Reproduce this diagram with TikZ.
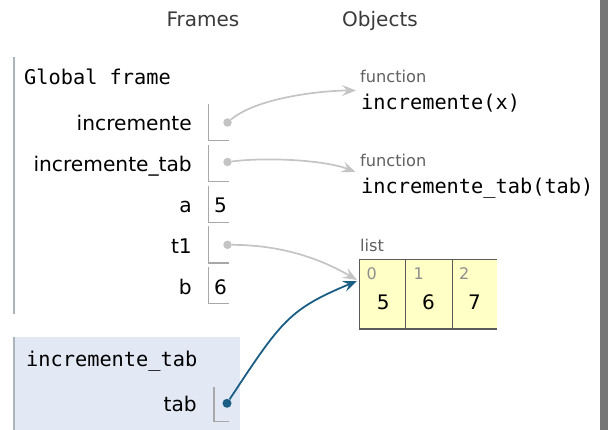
\documentclass[tikz,border=0pt]{standalone}
\usepackage{fontspec}
\setmainfont{DejaVu Sans}
\newfontfamily\pymono{DejaVu Sans Mono}
\usetikzlibrary{arrows.meta}
\definecolor{frameline}{HTML}{A9B5B9}
\definecolor{localbg}{HTML}{E2E9F5}
\definecolor{ptrgray}{HTML}{C4C4C4}
\definecolor{ptrblue}{HTML}{1A5E86}
\definecolor{boxline}{HTML}{A8A8A8}
\definecolor{typelbl}{HTML}{606060}
\definecolor{idxcol}{HTML}{8E8E8E}
\definecolor{listfill}{HTML}{FFFFC6}
\definecolor{listline}{HTML}{5A5A5A}
\definecolor{barcol}{HTML}{767676}
\definecolor{headcol}{HTML}{3A3A3A}
\begin{document}
\begin{tikzpicture}[x=1pt,y=-1pt,
  nm/.style={anchor=base east, inner sep=0pt, font=\fontsize{20.2}{24}\selectfont},
  codetxt/.style={anchor=base west, inner sep=0pt, font=\pymono\fontsize{20.3}{24}\selectfont},
  head/.style={anchor=base, inner sep=0pt, text=headcol, font=\fontsize{20}{24}\selectfont},
  typelabel/.style={anchor=base west, inner sep=0pt, text=typelbl, font=\fontsize{16.2}{19}\selectfont},
  idx/.style={anchor=base west, inner sep=0pt, text=idxcol, font=\fontsize{16}{19}\selectfont},
  val/.style={anchor=base, inner sep=0pt, font=\fontsize{20}{24}\selectfont},
  vbox/.style={draw=boxline, line width=1.2pt},
  fline/.style={draw=frameline, line width=2pt},
  dotg/.style={circle, fill=ptrgray, inner sep=0pt, minimum size=8.5pt},
  dotb/.style={circle, fill=ptrblue, inner sep=0pt, minimum size=9pt},
  ptrg/.style={draw=ptrgray, line width=1.7pt, -{Stealth[length=14pt,width=11pt,inset=5.5pt]}},
  ptrb/.style={draw=ptrblue, line width=1.8pt, -{Stealth[length=14pt,width=11pt,inset=5.5pt]}},
  lline/.style={draw=listline, line width=1.2pt}
]
\useasboundingbox (0,0) rectangle (608,430);
% right scroll bar
\fill[barcol] (599.5,0) rectangle (607.5,430);

% headers
\node[head] (hframes) at (203,26.7) {Frames};
\node[head] (hobjects) at (380,26.7) {Objects};

% global frame
\draw[fline] (14.3,57) -- (14.3,314.3);
\node[codetxt] (gf) at (24,85) {Global frame};

\node[nm] (n1) at (192,131) {incremente};
\node[nm] (n2) at (192,171.8) {incremente\_tab};
\node[nm] (n3) at (192,212.6) {a};
\node[nm] (n4) at (192,253.4) {t1};
\node[nm] (n5) at (192,294.2) {b};

\draw[vbox] (208.5,104) |- (229,140.7);
\draw[vbox] (208.5,144.8) |- (229,181.5);
\draw[vbox] (208.5,185.6) |- (229,222.3);
\draw[vbox] (208.5,226.4) |- (229,263.1);
\draw[vbox] (208.5,267.2) |- (229,303.9);

\node[val] (v3) at (220.5,212.6) {5};
\node[val] (v5) at (220.5,294.2) {6};

\node[dotg] (d1) at (227.5,122.5) {};
\node[dotg] (d2) at (227.5,162) {};
\node[dotg] (d4) at (227.5,244.8) {};

% local frame
\fill[localbg] (14,337.5) rectangle (240,430);
\draw[fline] (14.3,337.5) -- (14.3,430);
\node[codetxt] (lf) at (26,366.7) {incremente\_tab};
\node[nm] (ntab) at (197,411.7) {tab};
\draw[vbox] (214,386.7) |- (229,421.7);
\node[dotb] (dtab) at (227,403.3) {};

% objects
\node[typelabel] (t1lbl) at (360,82.3) {function};
\node[codetxt] (fun1) at (361,110) {incremente(x)};
\node[typelabel] (t2lbl) at (360,166.7) {function};
\node[codetxt] (fun2) at (361,194) {incremente\_tab(tab)};
\node[typelabel] (t3lbl) at (360,251.7) {list};

\fill[listfill] (359.5,259.5) rectangle (497,329);
\draw[lline] (497,259.5) -- (359.5,259.5) -- (359.5,329) -- (497,329);
\draw[lline] (405.5,259.5) -- (405.5,329);
\draw[lline] (452.5,259.5) -- (452.5,329);

\node[idx] (i0) at (366.5,279.3) {0};
\node[idx] (i1) at (413.5,279.3) {1};
\node[idx] (i2) at (459,279.3) {2};
\node[val] (e0) at (383.3,309.3) {5};
\node[val] (e1) at (428.5,309.3) {6};
\node[val] (e2) at (474.5,309.3) {7};

% pointer targets
\coordinate (f1tip) at (356,90.5);
\coordinate (f2tip) at (355.5,172);
\coordinate (ltip) at (357,280);
\coordinate (ltipb) at (357,281);

% pointers
\draw[ptrg] (d1) .. controls (257,97.5) and (322,90.5) .. (f1tip);
\draw[ptrg] (d2) .. controls (267,157) and (325,160) .. (f2tip);
\draw[ptrg] (d4) .. controls (275,245) and (314,255) .. (ltip);
\draw[ptrb] (dtab) .. controls (281.7,320.3) and (289.2,309.2) .. (ltipb);
\end{tikzpicture}
\end{document}
